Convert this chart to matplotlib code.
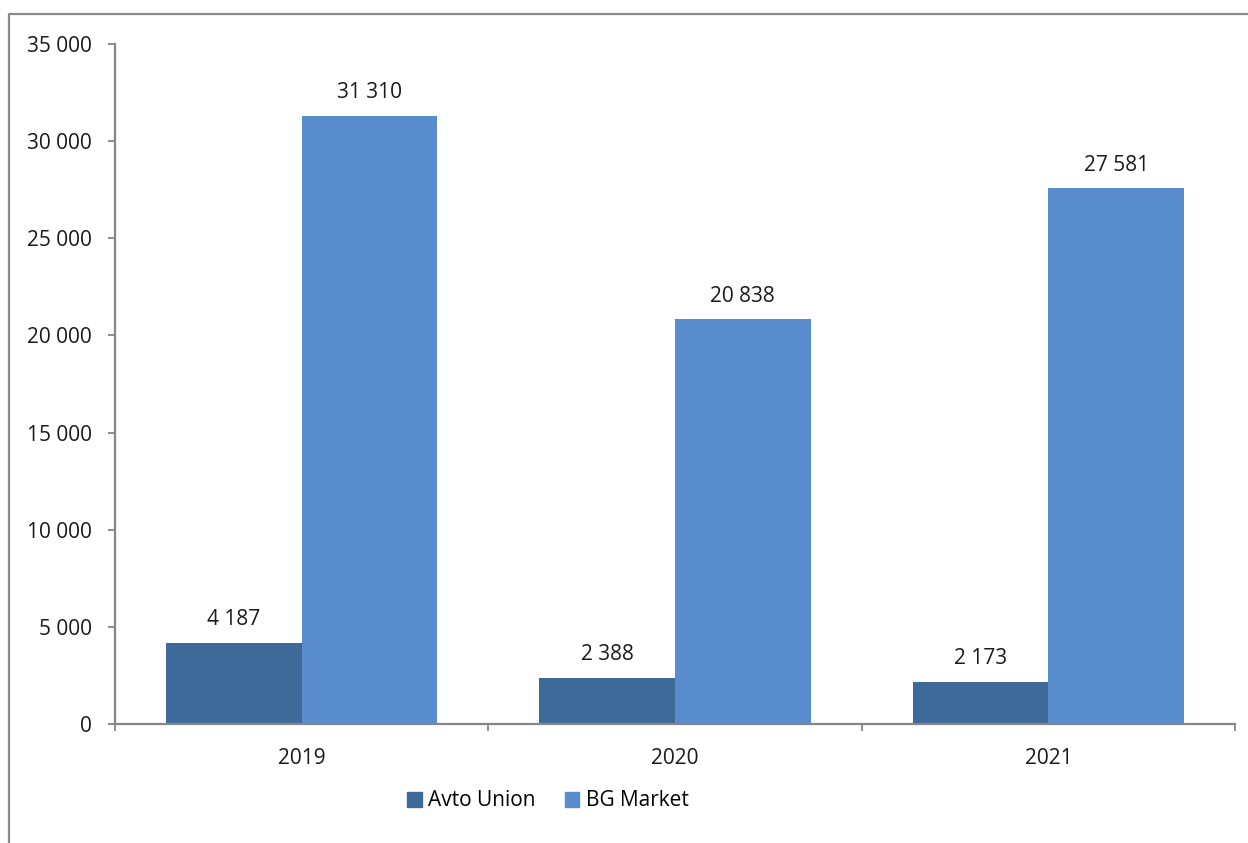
import matplotlib
matplotlib.use("Agg")
import matplotlib.pyplot as plt
from matplotlib.lines import Line2D
from matplotlib.patches import Patch
from matplotlib.ticker import FixedLocator, FuncFormatter
import numpy as np

years = ["2019", "2020", "2021"]
avto_union = [4187, 2388, 2173]
bg_market = [31310, 20838, 27581]
series_names = ["Avto Union", "BG Market"]
y_ticks = [0, 5000, 10000, 15000, 20000, 25000, 30000, 35000]

c_avto = "#3E6A9A"
c_bg = "#588CCC"
grey = "#868686"
font = "Open Sans"
fs = 15

W, H, DPI = 1248, 843, 100
fig = plt.figure(figsize=(W / DPI, H / DPI), dpi=DPI)
fig.patch.set_facecolor("white")

# outer chart frame (top and left edges visible)
fig.add_artist(Line2D([9 / W, 9 / W, 1.01], [-0.01, 1 - 14 / H, 1 - 14 / H],
                      transform=fig.transFigure, color="#8a8a8a", lw=1.6))

ax = fig.add_axes([115 / W, 1 - 724 / H, (1235 - 115) / W, (724 - 44) / H])

x = np.arange(len(years))
bw = 0.363
b1 = ax.bar(x - bw / 2, avto_union, bw, color=c_avto, label=series_names[0])
b2 = ax.bar(x + bw / 2, bg_market, bw, color=c_bg, label=series_names[1])

def fmt(v):
    return f"{v:,}".replace(",", " ")

for bars, vals in ((b1, avto_union), (b2, bg_market)):
    for rect, v in zip(bars, vals):
        ax.annotate(fmt(v), (rect.get_x() + rect.get_width() / 2, v),
                    xytext=(0, 9), textcoords="offset points",
                    ha="center", va="bottom", fontsize=fs, family=font,
                    color="#1a1a1a")

ax.set_xlim(-0.5, len(years) - 0.5)
ax.set_ylim(0, 35000)

ax.set_yticks(y_ticks)
ax.yaxis.set_major_formatter(FuncFormatter(lambda v, p: fmt(int(v))))
ax.set_xticks(x)
ax.set_xticklabels(years)
ax.xaxis.set_minor_locator(FixedLocator(np.arange(-0.5, len(years), 1.0)))

ax.tick_params(axis="x", which="major", length=0, pad=17, labelsize=fs,
               labelcolor="#1a1a1a")
ax.tick_params(axis="x", which="minor", length=5, width=1.3, color=grey,
               direction="out")
ax.tick_params(axis="y", length=5, width=1.3, color=grey, direction="out",
               pad=11.5, labelsize=fs, labelcolor="#1a1a1a")
for lbl in ax.get_xticklabels() + ax.get_yticklabels():
    lbl.set_family(font)

for s in ("top", "right"):
    ax.spines[s].set_visible(False)
for s in ("left", "bottom"):
    ax.spines[s].set_color(grey)
    ax.spines[s].set_linewidth(1.6)

handles = [Patch(color=c_avto), Patch(color=c_bg)]
fig.legend(handles, series_names, loc="center", bbox_to_anchor=(548 / W, 1 - 801 / H),
           ncol=2, frameon=False, prop={"family": font, "size": fs},
           handlelength=0.7, handleheight=0.7, handletextpad=0.3,
           columnspacing=1.4)

fig.savefig("out.png", dpi=DPI, facecolor="white")
